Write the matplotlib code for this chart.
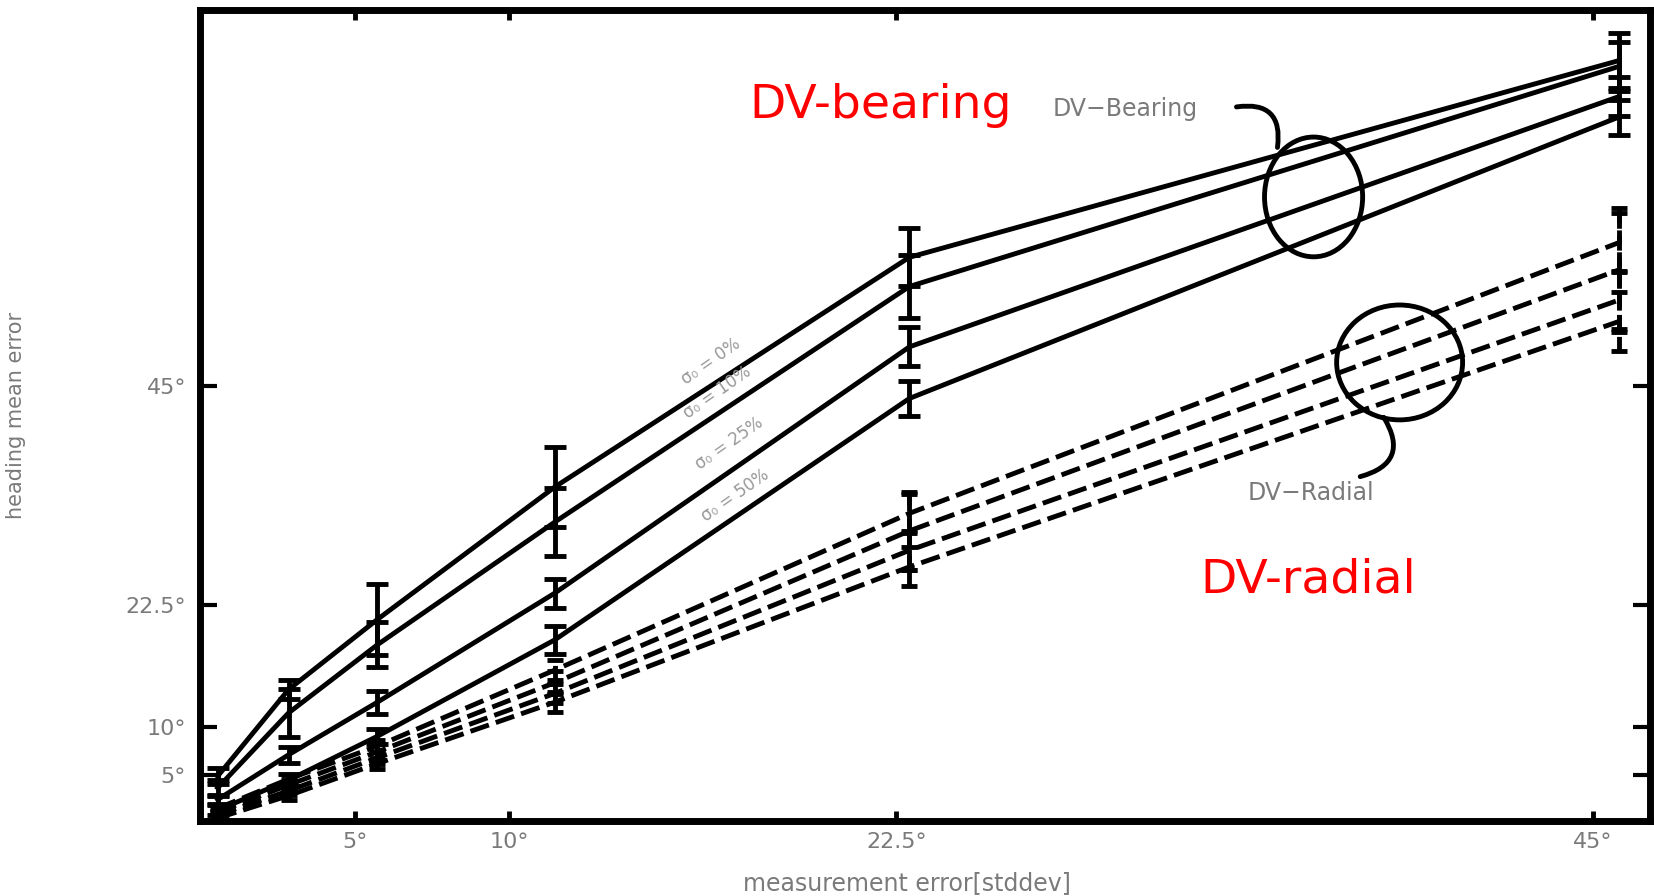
import numpy as np
import matplotlib
matplotlib.use('Agg')
import matplotlib.pyplot as plt
from matplotlib.patches import Ellipse

# measurement error (deg) at which the runs were done
x_vals = [0.57, 2.86, 5.73, 11.46, 22.92, 45.84]

# DV-bearing, heading mean error per outlier rate
bearing_labels = ['σ₀ = 0%', 'σ₀ = 10%', 'σ₀ = 25%', 'σ₀ = 50%']
bearing_0 = [4.9, 13.8, 21.0, 34.6, 58.2, 78.4]
bearing_10 = [3.7, 11.4, 18.4, 31.0, 55.2, 77.8]
bearing_25 = [2.5, 7.1, 12.5, 23.7, 49.0, 74.7]
bearing_50 = [1.4, 4.5, 9.0, 18.9, 43.7, 72.6]
bearing_err_0 = [0.8, 1.0, 3.6, 4.1, 3.0, 2.8]
bearing_err_10 = [0.8, 2.5, 2.3, 3.5, 3.2, 2.5]
bearing_err_25 = [0.5, 0.8, 1.2, 1.5, 2.0, 2.0]
bearing_err_50 = [0.5, 0.6, 0.8, 1.4, 1.8, 1.8]

# DV-radial
radial_1 = [1.6, 4.6, 8.0, 15.8, 31.9, 59.7]
radial_2 = [1.2, 4.0, 7.4, 14.5, 30.1, 56.9]
radial_3 = [0.9, 3.4, 6.8, 13.4, 28.1, 53.8]
radial_4 = [0.6, 2.9, 6.2, 12.5, 26.4, 51.6]
radial_err_1 = [0.3, 0.4, 0.6, 1.0, 2.0, 3.0]
radial_err_2 = [0.3, 0.5, 0.8, 1.2, 4.0, 6.4]
radial_err_3 = [0.3, 0.4, 0.6, 1.0, 2.0, 3.0]
radial_err_4 = [0.3, 0.4, 0.6, 1.0, 2.0, 3.0]

tick_vals = [5, 10, 22.5, 45]
tick_labels = ['5°', '10°', '22.5°', '45°']

gray = '#7a7a7a'

fig = plt.figure(figsize=(16.54, 8.96), dpi=100)
ax = fig.add_axes([200/1654, 75/896, 1450/1654, 811/896])

bearing = [bearing_0, bearing_10, bearing_25, bearing_50]
bearing_err = [bearing_err_0, bearing_err_10, bearing_err_25, bearing_err_50]
for y, e in zip(bearing, bearing_err):
    ax.errorbar(x_vals, y, yerr=e, color='black', lw=3.5, elinewidth=3.5,
                capsize=8, capthick=3.5)

radial = [radial_1, radial_2, radial_3, radial_4]
radial_err = [radial_err_1, radial_err_2, radial_err_3, radial_err_4]
for y, e in zip(radial, radial_err):
    ln, caps, bars = ax.errorbar(x_vals, y, yerr=e, color='black', lw=3.5,
                                 elinewidth=3.5, capsize=6, capthick=3.5)
    ln.set_linestyle((0, (4, 1.5)))
    bars[0].set_linestyle((0, (3, 1.5)))

# labels along the bearing curves
lab_pos = [(16.5, 47.5), (16.7, 44.3), (17.1, 39.1), (17.3, 33.7)]
for (lx, ly), t in zip(lab_pos, bearing_labels):
    ax.text(lx, ly, t, rotation=35, color='#999999', fontsize=12,
            ha='center', va='center')

# circled groups with hooks
ax.add_patch(Ellipse((35.98, 64.4), 3.17, 12.3, fill=False, lw=3.5, color='black'))
ax.add_patch(Ellipse((38.76, 47.4), 4.07, 11.8, fill=False, lw=3.5, color='black'))
ax.annotate('', xy=(34.8, 69.2), xytext=(33.4, 73.6),
            arrowprops=dict(arrowstyle='-', lw=3.5, color='black',
                            connectionstyle='arc3,rad=-0.7'))
ax.annotate('', xy=(37.4, 35.6), xytext=(38.2, 42.0),
            arrowprops=dict(arrowstyle='-', lw=3.5, color='black',
                            connectionstyle='arc3,rad=-0.7'))

ax.text(29.9, 73.4, 'DV−Bearing', color=gray, fontsize=17, ha='center', va='center')
ax.text(35.9, 34.0, 'DV−Radial', color=gray, fontsize=17, ha='center', va='center')

ax.text(22.0, 73.8, 'DV-bearing', color='red', fontsize=34, ha='center', va='center')
ax.text(35.8, 25.1, 'DV-radial', color='red', fontsize=34, ha='center', va='center')

ax.set_xlim(0, 46.85)
ax.set_ylim(0.3, 83.6)
ax.set_xticks(tick_vals)
ax.set_xticklabels(tick_labels)
ax.set_yticks(tick_vals)
ax.set_yticklabels(tick_labels)
ax.tick_params(axis='x', direction='in', length=7, width=3.5, top=True,
               labelsize=16, labelcolor=gray, pad=8)
ax.tick_params(axis='y', direction='in', length=12, width=3, right=True,
               labelsize=16, labelcolor=gray, pad=10)
for s in ax.spines.values():
    s.set_linewidth(5)

ax.set_xlabel('measurement error[stddev]', color=gray, fontsize=17)
ax.set_ylabel('heading mean error', color=gray, fontsize=15)
ax.xaxis.set_label_coords(0.4876, -0.062)
ax.yaxis.set_label_coords(-0.12, 0.5)

fig.savefig('out.png', dpi=100)
